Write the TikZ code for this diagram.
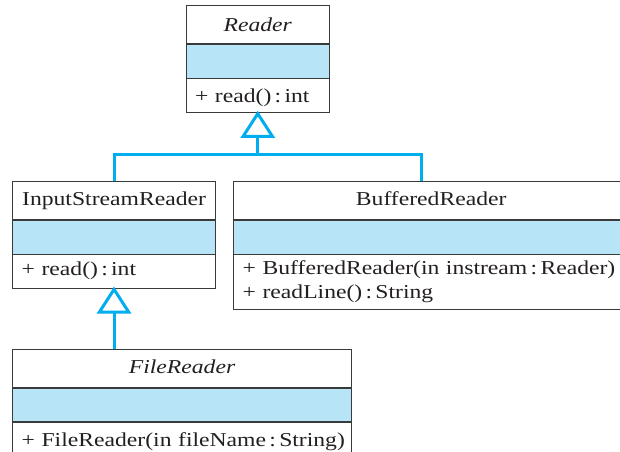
\documentclass[tikz,border=0pt]{standalone}
\usepackage{fontspec}
\setmainfont[FakeStretch=1.2]{Liberation Serif}
\usetikzlibrary{arrows.meta}
\definecolor{boxc}{HTML}{3A3A3A}
\definecolor{txtc}{HTML}{231F20}
\definecolor{attrc}{HTML}{B8E4F8}
\definecolor{inhc}{HTML}{00AEEF}
\tikzset{
  row/.style={draw=boxc, line width=0.8pt, anchor=north west, inner sep=0pt, text=txtc,
    font=\fontsize{19.7}{24}\selectfont, text height=13pt, text depth=4pt},
  titlerow/.style={row, align=center},
  attrrow/.style={row, fill=attrc},
  methrow/.style={row, align=left, inner xsep=9pt, text width=#1-18pt, minimum width=#1},
  inh/.style={draw=inhc, line width=3pt, shorten >=-2pt,
    -{Triangle[open, length=27pt, width=34pt, fill=white]}},
  inhline/.style={draw=inhc, line width=3pt},
}
\begin{document}
\begin{tikzpicture}[x=1pt,y=-1pt]
\useasboundingbox (0,0) rectangle (620,451);
% Reader
\node[titlerow, minimum width=143.3pt, minimum height=38.3pt, text height=15pt, text depth=2pt] (rT) at (185.7,5) {\itshape Reader};
\node[attrrow, minimum width=143.3pt, minimum height=33.4pt] (rA) at (rT.south west) {};
\node[methrow=143.3pt, minimum height=33.7pt, text height=15pt, text depth=2pt] (rM) at (rA.south west) {\mbox{+ read()\,:\,int}};
% InputStreamReader
\node[titlerow, minimum width=202.7pt, minimum height=38.3pt] (iT) at (12.3,181) {InputStreamReader};
\node[attrrow, minimum width=202.7pt, minimum height=33.4pt] (iA) at (iT.south west) {};
\node[methrow=202.7pt, minimum height=33.4pt] (iM) at (iA.south west) {\mbox{+ read()\,:\,int}};
% BufferedReader
\node[titlerow, minimum width=395pt, minimum height=38.3pt] (bT) at (233.3,181) {BufferedReader};
\node[attrrow, minimum width=395pt, minimum height=33.4pt] (bA) at (bT.south west) {};
\node[methrow=395pt, minimum height=54.6pt, text depth=28pt] (bM) at (bA.south west)
  {\mbox{+ BufferedReader(in instream\,:\,Reader)}\\\mbox{+ readLine()\,:\,String}};
% FileReader
\node[titlerow, minimum width=338.7pt, minimum height=38.3pt] (fT) at (12.3,349) {\itshape FileReader};
\node[attrrow, minimum width=338.7pt, minimum height=32.7pt] (fA) at (fT.south west) {};
\node[methrow=338.7pt, minimum height=39pt] (fM) at (fA.south west) {\mbox{+ FileReader(in fileName\,:\,String)}};
% inheritance
\coordinate (j) at (rM.south |- 0,154);
\coordinate (bj) at (421.7,154);
\draw[inh] (iT.north) |- (j) -- (rM.south);
\draw[inhline] (j) -- (bj) -- (bj |- bT.north);
\draw[inh] (fT.north -| iM.south) -- (iM.south);
\end{tikzpicture}
\end{document}
